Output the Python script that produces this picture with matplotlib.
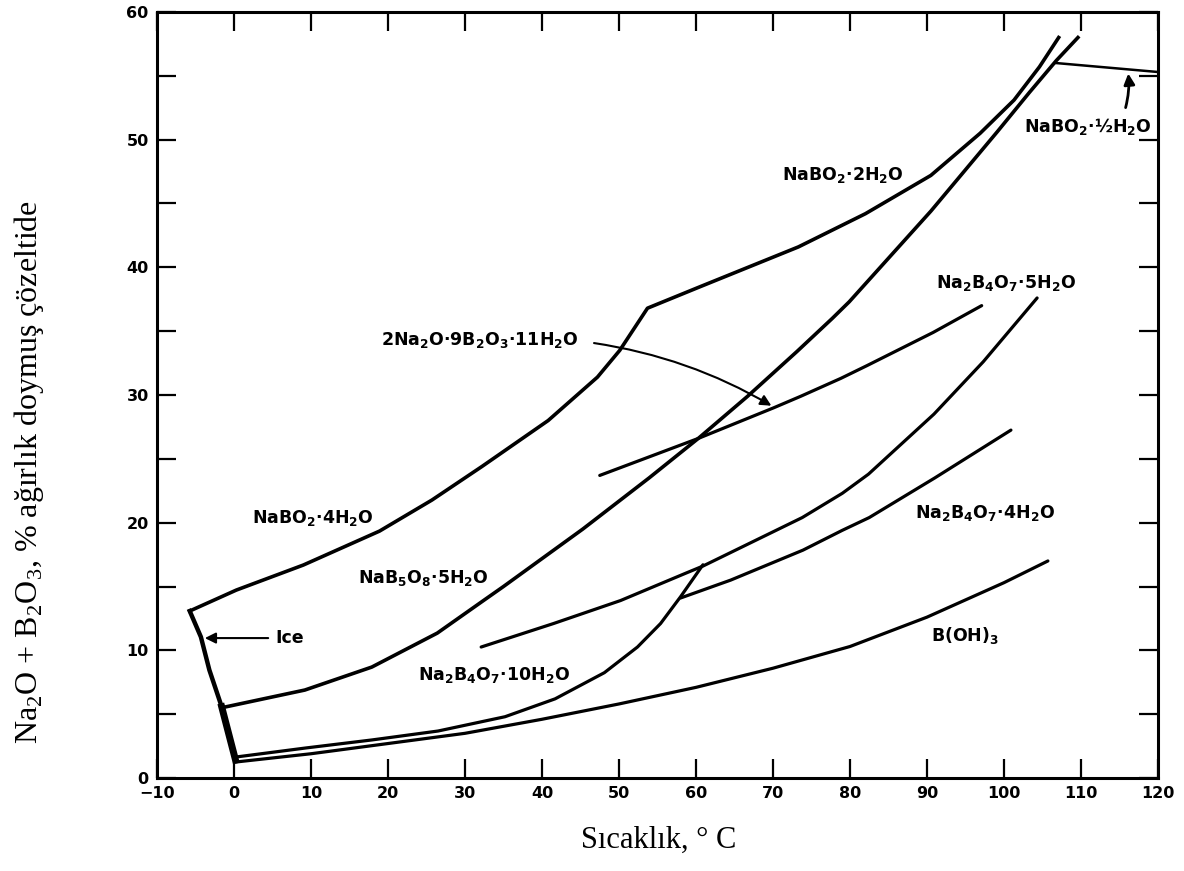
import numpy as np
import matplotlib.pyplot as plt

plt.rcParams['mathtext.fontset'] = 'custom'
plt.rcParams['mathtext.rm'] = 'Liberation Serif'
plt.rcParams['mathtext.bf'] = 'DejaVu Sans:bold'
plt.rcParams['mathtext.default'] = 'bf'

# sinir egrileri (sicaklik [C], Na2O+B2O3 [%])
ice_x = [-5.75, -4.3, -3.2, -1.6, 0.2]
ice_y = [13.08, 11.05, 8.46, 5.58, 1.4]

# NaBO2.4H2O ust siniri + NaBO2.2H2O
a_x = [-5.75, 0.3, 9.0, 18.9, 25.7, 32.2, 40.8, 47.2, 50.1, 53.7,
       60.4, 73.3, 82.0, 90.5, 96.9, 101.3, 104.6, 107.1]
a_y = [13.08, 14.72, 16.68, 19.34, 21.77, 24.4, 28.0, 31.4, 33.5, 36.8,
       38.45, 41.6, 44.2, 47.2, 50.5, 53.1, 55.7, 58.0]

# NaB5O8.5H2O ust siniri
b_x = [-1.16, 9.2, 17.9, 26.4, 32.4, 35.0, 45.3, 53.9, 60.3, 66.7,
       73.1, 77.7, 79.9, 90.5, 99.1, 103.3, 106.8, 109.6]
b_y = [5.56, 6.89, 8.69, 11.35, 13.9, 15.0, 19.5, 23.5, 26.6, 29.9,
       33.4, 36.0, 37.3, 44.4, 50.6, 53.7, 56.2, 58.0]

# NaBO2.1/2H2O
h_x = [106.8, 120.0]
h_y = [56.0, 55.3]

# Na2B4O7.5H2O ust siniri
c_x = [47.5, 60.3, 70.1, 73.6, 78.8, 82.2, 90.8, 97.1]
c_y = [23.7, 26.6, 29.0, 29.9, 31.3, 32.3, 34.9, 37.0]

# Na2B4O7.5H2O alt siniri
d_x = [32.1, 41.5, 50.2, 58.7, 60.9, 73.8, 79.0, 82.4, 90.9, 97.3, 104.3]
d_y = [10.26, 12.1, 13.9, 16.05, 16.6, 20.4, 22.3, 23.8, 28.5, 32.6, 37.6]

# Na2B4O7.4H2O
e_x = [58.0, 64.5, 73.9, 79.0, 82.5, 91.0, 100.9]
e_y = [14.1, 15.5, 17.85, 19.4, 20.4, 23.5, 27.25]

# Na2B4O7.10H2O
f_x = [0.2, 9.3, 17.9, 26.5, 35.2, 41.7, 48.1, 52.4, 55.4, 58.0, 60.9]
f_y = [1.64, 2.35, 2.98, 3.68, 4.8, 6.2, 8.25, 10.26, 12.1, 14.2, 16.7]

# B(OH)3
g_x = [0.2, 10, 20, 30, 40, 50, 60, 70, 80, 90, 100, 105.7]
g_y = [1.25, 1.9, 2.7, 3.5, 4.6, 5.8, 7.1, 8.6, 10.3, 12.6, 15.3, 17.0]

etiketler = [
    (r'NaBO$_2$·4H$_2$O', 10.2, 20.4),
    (r'NaB$_5$O$_8$·5H$_2$O', 24.6, 15.66),
    (r'Na$_2$B$_4$O$_7$·10H$_2$O', 33.8, 8.07),
    (r'2Na$_2$O·9B$_2$O$_3$·11H$_2$O', 31.9, 34.3),
    (r'NaBO$_2$·2H$_2$O', 79.1, 47.2),
    (r'NaBO$_2$·½H$_2$O', 110.9, 51.06),
    (r'Na$_2$B$_4$O$_7$·5H$_2$O', 100.3, 38.8),
    (r'Na$_2$B$_4$O$_7$·4H$_2$O', 97.5, 20.75),
    (r'B(OH)$_3$', 94.9, 11.2),
]

fig = plt.figure(figsize=(11.84, 8.71), dpi=100)
ax = fig.add_axes([157 / 1184, 1 - 778 / 871, (1158 - 157) / 1184, (778 - 12) / 871])

lw = 2.6
ax.plot(ice_x, ice_y, 'k-', lw=3.2, solid_joinstyle='miter')
ax.plot(ice_x[3:], ice_y[3:], 'k-', lw=5)
ax.plot(a_x, a_y, 'k-', lw=lw, solid_joinstyle='round')
ax.plot(b_x, b_y, 'k-', lw=lw, solid_joinstyle='round')
ax.plot(h_x, h_y, 'k-', lw=1.8)
for xs, ys in [(c_x, c_y), (d_x, d_y), (e_x, e_y), (f_x, f_y), (g_x, g_y)]:
    ax.plot(xs, ys, 'k-', lw=2.3, solid_joinstyle='round', solid_capstyle='round')

for metin, tx, ty in etiketler:
    ax.text(tx, ty, metin, fontsize=12.5, fontweight='bold', family='DejaVu Sans',
            ha='center', va='center')

ax.text(7.2, 10.96, 'Ice', fontsize=12.5, fontweight='bold', family='DejaVu Sans',
        ha='center', va='center')
ax.annotate('', xy=(-4.15, 10.96), xytext=(4.8, 10.96),
            arrowprops=dict(arrowstyle='-|>', lw=1.5, color='black', mutation_scale=16))
ax.annotate('', xy=(70.1, 29.05), xytext=(46.4, 34.1),
            arrowprops=dict(arrowstyle='-|>', lw=1.5, color='black', mutation_scale=16,
                            connectionstyle='arc3,rad=-0.1'))
ax.annotate('', xy=(116.1, 55.4), xytext=(115.7, 52.3),
            arrowprops=dict(arrowstyle='-|>', lw=2, color='black', mutation_scale=16,
                            connectionstyle='arc3,rad=0.1'))

ax.set_xlim(-10, 120)
ax.set_ylim(0, 60)
ax.set_xticks(np.arange(-10, 121, 10))
ax.set_xticklabels(['−10', '0', '10', '20', '30', '40', '50', '60', '70', '80',
                    '90', '100', '110', '120'])
ax.set_yticks(np.arange(0, 61, 5))
ax.set_yticklabels([str(v) if v % 10 == 0 else '' for v in range(0, 61, 5)])
ax.tick_params(direction='in', length=14, width=1.6, top=True, right=True,
               labelsize=11.5, pad=6)
for lab in ax.get_xticklabels() + ax.get_yticklabels():
    lab.set_fontweight('bold')
    lab.set_family('DejaVu Sans')
for sp in ax.spines.values():
    sp.set_linewidth(2.2)

fig.text(659 / 1184, 1 - 840 / 871, 'Sıcaklık, ° C', family='Liberation Serif',
         fontsize=22, ha='center', va='center')
fig.text(29 / 1184, 1 - 472 / 871,
         r'Na$_\mathrm{2}$O + B$_\mathrm{2}$O$_\mathrm{3}$, % ağırlık doymuş çözeltide',
         family='Liberation Serif', fontsize=23, rotation=90, ha='center', va='center')

fig.savefig('out.png', dpi=100)
